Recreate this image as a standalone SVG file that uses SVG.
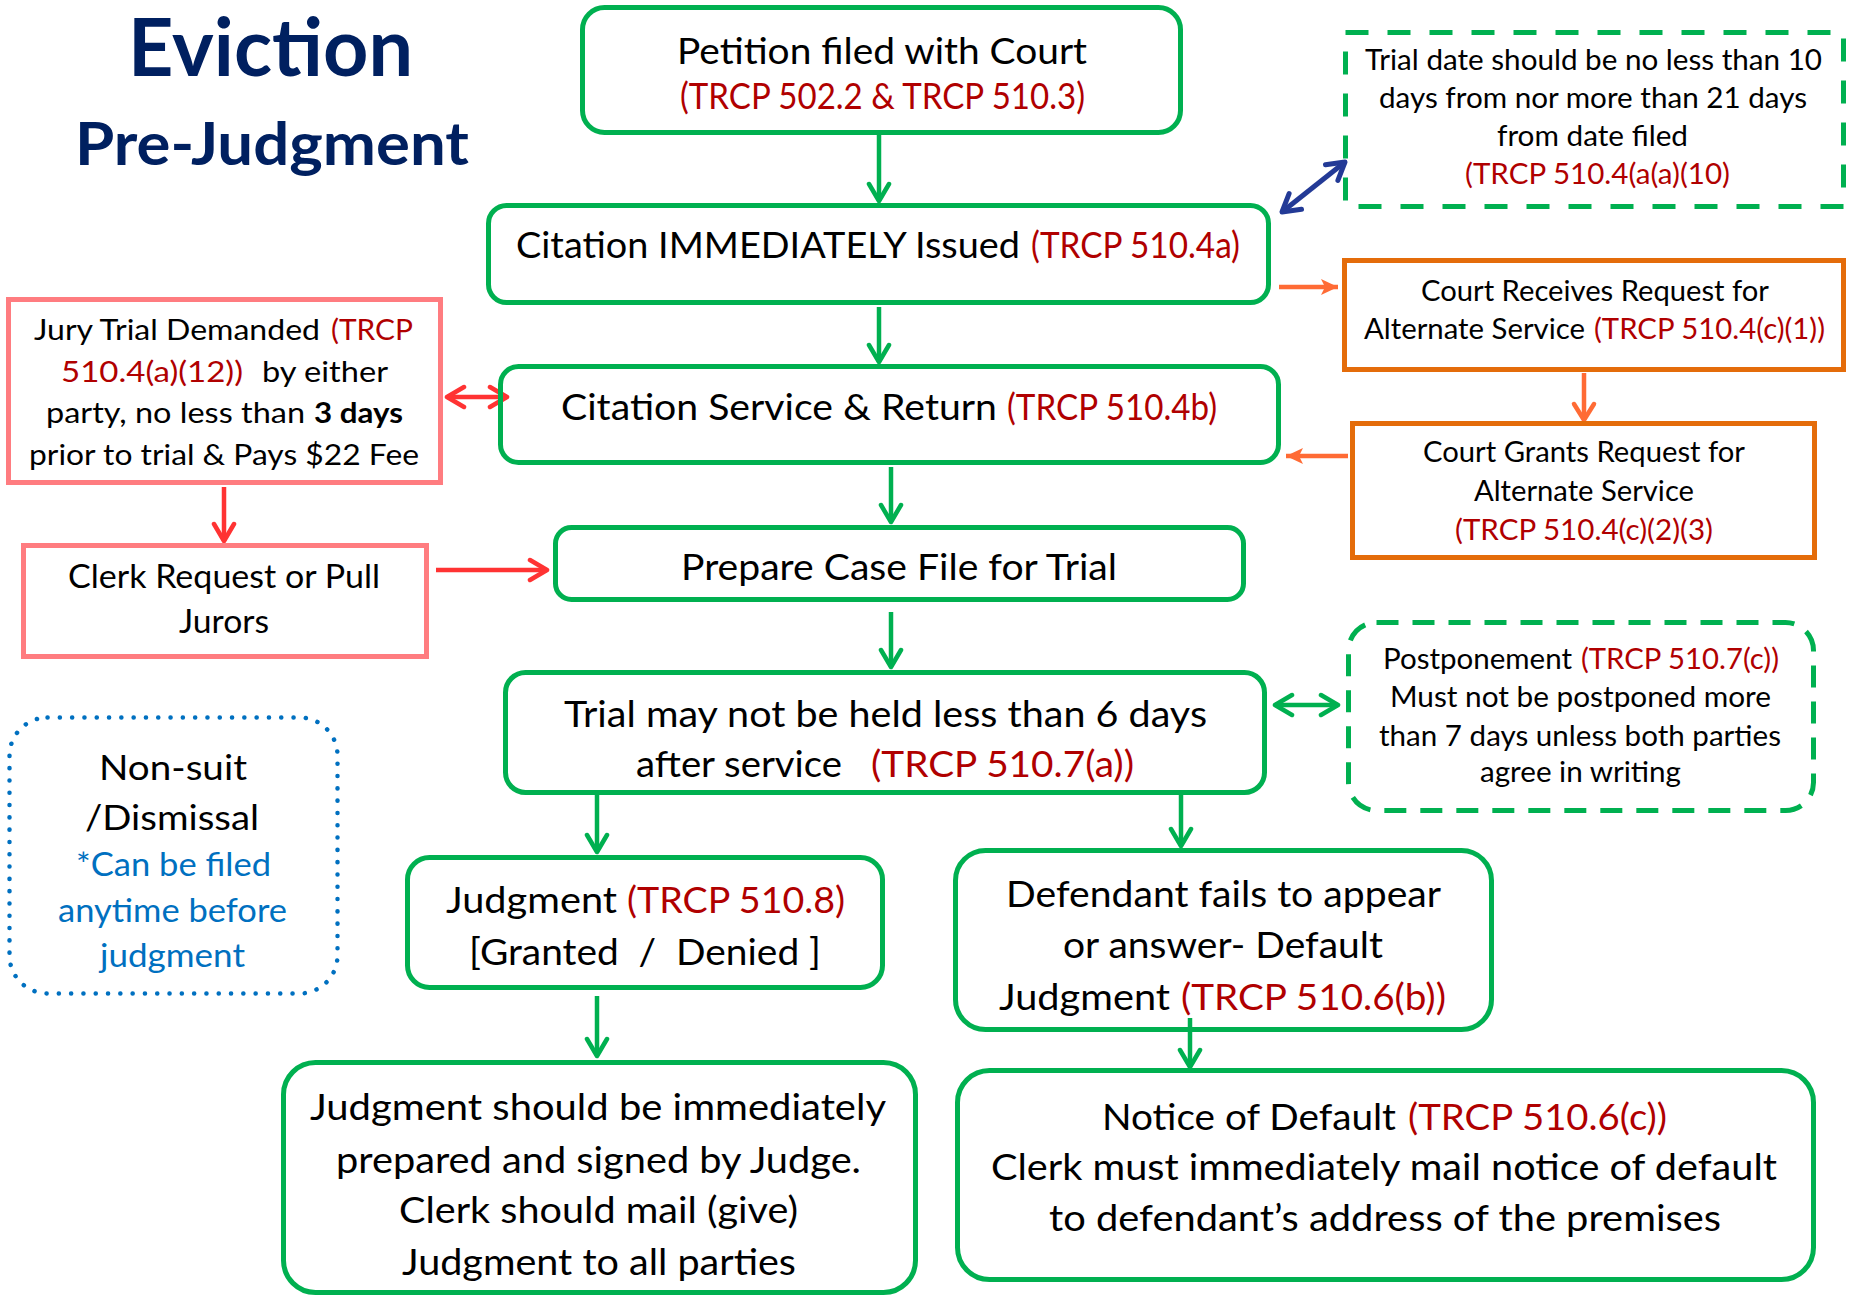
<svg xmlns="http://www.w3.org/2000/svg" width="1849" height="1297" viewBox="0 0 1849 1297">
<style>
text{font-family:Lato,"Liberation Sans",sans-serif;fill:#000}
.t{font-size:37px}
.s{font-size:28px}
.j{font-size:29px}
.r{fill:#B00000}
.b{fill:#0070C0}
.g{fill:none;stroke:#00B050;stroke-width:5}
.o{fill:#fff;stroke:#E46C0A;stroke-width:5}
.p{fill:#fff;stroke:#FF7C80;stroke-width:5}
.title{font-weight:700;fill:#002060}
.cg{fill:none;stroke:#00B050;stroke-width:4.5}
.cr{fill:none;stroke:#FF3333;stroke-width:4.5}
.co{fill:none;stroke:#FF6B35;stroke-width:4.5}
.cb{fill:none;stroke:#233A96;stroke-width:5}
</style>
<defs>
<marker id="mg" viewBox="-20 -14 24 28" refX="0" refY="0" markerWidth="24" markerHeight="28" markerUnits="userSpaceOnUse" orient="auto-start-reverse"><path d="M-17,-10 L0,0 L-17,10" fill="none" stroke="#00B050" stroke-width="4.5" stroke-linecap="round" stroke-linejoin="round"/></marker>
<marker id="mr" viewBox="-20 -14 24 28" refX="0" refY="0" markerWidth="24" markerHeight="28" markerUnits="userSpaceOnUse" orient="auto-start-reverse"><path d="M-17,-10 L0,0 L-17,10" fill="none" stroke="#FF3333" stroke-width="4.5" stroke-linecap="round" stroke-linejoin="round"/></marker>
<marker id="mb" viewBox="-20 -14 24 28" refX="0" refY="0" markerWidth="24" markerHeight="28" markerUnits="userSpaceOnUse" orient="auto-start-reverse"><path d="M-17,-10 L0,0 L-17,10" fill="none" stroke="#233A96" stroke-width="5" stroke-linecap="round" stroke-linejoin="round"/></marker>
<marker id="mov" viewBox="-20 -14 24 28" refX="0" refY="0" markerWidth="24" markerHeight="28" markerUnits="userSpaceOnUse" orient="auto"><path d="M-16,-10 L0,0 L-16,10" fill="none" stroke="#FF6B35" stroke-width="4.5" stroke-linecap="round" stroke-linejoin="round"/></marker>
<marker id="mof" viewBox="-18 -10 20 20" refX="0" refY="0" markerWidth="20" markerHeight="20" markerUnits="userSpaceOnUse" orient="auto"><path d="M-17,-8 L0,0 L-17,8 L-13,0 Z" fill="#FF6B35"/></marker>
</defs>

<g id="title">
<text class="title" x="128" y="76" font-size="80" textLength="285" lengthAdjust="spacingAndGlyphs">Eviction</text>
<text class="title" x="75" y="165" font-size="60" textLength="394" lengthAdjust="spacingAndGlyphs">Pre-Judgment</text>
</g>

<g id="connectors">
<line class="cg" x1="879" y1="135" x2="879" y2="201" marker-end="url(#mg)"/>
<line class="cg" x1="879" y1="307" x2="879" y2="362" marker-end="url(#mg)"/>
<line class="cg" x1="891" y1="467" x2="891" y2="522" marker-end="url(#mg)"/>
<line class="cg" x1="891" y1="612" x2="891" y2="667" marker-end="url(#mg)"/>
<line class="cg" x1="597" y1="795" x2="597" y2="852" marker-end="url(#mg)"/>
<line class="cg" x1="1181" y1="795" x2="1181" y2="846" marker-end="url(#mg)"/>
<line class="cg" x1="597" y1="996" x2="597" y2="1056" marker-end="url(#mg)"/>
<line class="cg" x1="1190" y1="1018" x2="1190" y2="1067" marker-end="url(#mg)"/>
<line class="cg" x1="1275" y1="705" x2="1338" y2="705" marker-start="url(#mg)" marker-end="url(#mg)"/>
<line class="cb" x1="1282" y1="212" x2="1345" y2="162" marker-start="url(#mb)" marker-end="url(#mb)"/>
<line class="co" x1="1279" y1="287" x2="1338" y2="287" marker-end="url(#mof)"/>
<line class="co" x1="1584" y1="373" x2="1584" y2="420" marker-end="url(#mov)"/>
<line class="co" x1="1348" y1="456" x2="1286" y2="456" marker-end="url(#mof)"/>
<line class="cr" x1="447" y1="397" x2="507" y2="397" marker-start="url(#mr)" marker-end="url(#mr)"/>
<line class="cr" x1="224" y1="487" x2="224" y2="541" marker-end="url(#mr)"/>
<line class="cr" x1="436" y1="570" x2="547" y2="570" marker-end="url(#mr)"/>
</g>

<g id="petition">
<rect class="g" x="582.5" y="7.5" width="598" height="125" rx="22"/>
<text class="t" x="677" y="64" textLength="410" lengthAdjust="spacingAndGlyphs">Petition filed with Court</text>
<text class="t r" x="680" y="109" textLength="405" lengthAdjust="spacingAndGlyphs">(TRCP 502.2 &amp; TRCP 510.3)</text>
</g>

<g id="citation-issued">
<rect class="g" x="488.5" y="205.5" width="780" height="97" rx="18"/>
<text class="t" x="516" y="258" textLength="504" lengthAdjust="spacingAndGlyphs">Citation IMMEDIATELY Issued</text>
<text class="t r" x="1031" y="258" textLength="209" lengthAdjust="spacingAndGlyphs">(TRCP 510.4a)</text>
</g>

<g id="citation-service">
<rect class="g" x="500.5" y="366.5" width="778" height="96" rx="18"/>
<text class="t" x="561" y="420" textLength="436" lengthAdjust="spacingAndGlyphs">Citation Service &amp; Return</text>
<text class="t r" x="1007" y="420" textLength="210" lengthAdjust="spacingAndGlyphs">(TRCP 510.4b)</text>
</g>

<g id="prepare">
<rect class="g" x="555.5" y="527.5" width="688" height="72" rx="16"/>
<text class="t" x="681" y="580" textLength="436" lengthAdjust="spacingAndGlyphs">Prepare Case File for Trial</text>
</g>

<g id="trial">
<rect class="g" x="505.5" y="672.5" width="759" height="120" rx="20"/>
<text class="t" x="564" y="727" textLength="643" lengthAdjust="spacingAndGlyphs">Trial may not be held less than 6 days</text>
<text class="t" x="636" y="777" textLength="206" lengthAdjust="spacingAndGlyphs">after service</text>
<text class="t r" x="871" y="777" textLength="263" lengthAdjust="spacingAndGlyphs">(TRCP 510.7(a))</text>
</g>

<g id="judgment">
<rect class="g" x="407.5" y="857.5" width="475" height="130" rx="22"/>
<text class="t" x="446" y="913" textLength="171" lengthAdjust="spacingAndGlyphs">Judgment</text>
<text class="t r" x="627" y="913" textLength="218" lengthAdjust="spacingAndGlyphs">(TRCP 510.8)</text>
<text class="t" x="469" y="965" textLength="352" lengthAdjust="spacingAndGlyphs">[Granted&#160; /&#160; Denied ]</text>
</g>

<g id="default-judgment">
<rect class="g" x="955.5" y="850.5" width="536" height="179" rx="30"/>
<text class="t" x="1006" y="907" textLength="435" lengthAdjust="spacingAndGlyphs">Defendant fails to appear</text>
<text class="t" x="1063" y="958" textLength="320" lengthAdjust="spacingAndGlyphs">or answer- Default</text>
<text class="t" x="999" y="1010" textLength="171" lengthAdjust="spacingAndGlyphs">Judgment</text>
<text class="t r" x="1181" y="1010" textLength="265" lengthAdjust="spacingAndGlyphs">(TRCP 510.6(b))</text>
</g>

<g id="judgment-signed">
<rect class="g" x="283.5" y="1062.5" width="632" height="230" rx="32"/>
<text class="t" x="310" y="1120" textLength="576" lengthAdjust="spacingAndGlyphs">Judgment should be immediately</text>
<text class="t" x="336" y="1173" textLength="525" lengthAdjust="spacingAndGlyphs">prepared and signed by Judge.</text>
<text class="t" x="399" y="1223" textLength="399" lengthAdjust="spacingAndGlyphs">Clerk should mail (give)</text>
<text class="t" x="402" y="1275" textLength="394" lengthAdjust="spacingAndGlyphs">Judgment to all parties</text>
</g>

<g id="notice-default">
<rect class="g" x="957.5" y="1070.5" width="856" height="209" rx="32"/>
<text class="t" x="1102" y="1130" textLength="294" lengthAdjust="spacingAndGlyphs">Notice of Default</text>
<text class="t r" x="1408" y="1130" textLength="259" lengthAdjust="spacingAndGlyphs">(TRCP 510.6(c))</text>
<text class="t" x="991" y="1180" textLength="786" lengthAdjust="spacingAndGlyphs">Clerk must immediately mail notice of default</text>
<text class="t" x="1049" y="1231" textLength="672" lengthAdjust="spacingAndGlyphs">to defendant’s address of the premises</text>
</g>

<g id="trial-date">
<rect x="1345.5" y="32.5" width="498" height="174" fill="none" stroke="#00B050" stroke-width="5" stroke-dasharray="23 19"/>
<text class="s" x="1365" y="70" textLength="457" lengthAdjust="spacingAndGlyphs">Trial date should be no less than 10</text>
<text class="s" x="1379" y="108" textLength="428" lengthAdjust="spacingAndGlyphs">days from nor more than 21 days</text>
<text class="s" x="1497" y="146" textLength="191" lengthAdjust="spacingAndGlyphs">from date filed</text>
<text class="s r" x="1465" y="184" textLength="265" lengthAdjust="spacingAndGlyphs">(TRCP 510.4(a(a)(10)</text>
</g>

<g id="alt-request">
<rect class="o" x="1344.5" y="260.5" width="499" height="109"/>
<text class="s" x="1421" y="301" textLength="348" lengthAdjust="spacingAndGlyphs">Court Receives Request for</text>
<text class="s" x="1364" y="339" textLength="221" lengthAdjust="spacingAndGlyphs">Alternate Service</text>
<text class="s r" x="1594" y="339" textLength="231" lengthAdjust="spacingAndGlyphs">(TRCP 510.4(c)(1))</text>
</g>

<g id="alt-grant">
<rect class="o" x="1352.5" y="423.5" width="462" height="134"/>
<text class="s" x="1423" y="462" textLength="322" lengthAdjust="spacingAndGlyphs">Court Grants Request for</text>
<text class="s" x="1474" y="501" textLength="220" lengthAdjust="spacingAndGlyphs">Alternate Service</text>
<text class="s r" x="1455" y="540" textLength="258" lengthAdjust="spacingAndGlyphs">(TRCP 510.4(c)(2)(3)</text>
</g>

<g id="postponement">
<rect x="1348.5" y="622.5" width="465" height="188" rx="28" fill="none" stroke="#00B050" stroke-width="5" stroke-dasharray="22 14"/>
<text class="s" x="1383" y="669" textLength="189" lengthAdjust="spacingAndGlyphs">Postponement</text>
<text class="s r" x="1581" y="669" textLength="198" lengthAdjust="spacingAndGlyphs">(TRCP 510.7(c))</text>
<text class="s" x="1390" y="707" textLength="381" lengthAdjust="spacingAndGlyphs">Must not be postponed more</text>
<text class="s" x="1379" y="746" textLength="402" lengthAdjust="spacingAndGlyphs">than 7 days unless both parties</text>
<text class="s" x="1480" y="782" textLength="201" lengthAdjust="spacingAndGlyphs">agree in writing</text>
</g>

<g id="jury">
<rect class="p" x="8.5" y="299.5" width="432" height="183"/>
<text class="j" x="34" y="340" textLength="286" lengthAdjust="spacingAndGlyphs">Jury Trial Demanded</text>
<text class="j r" x="331" y="340" textLength="82" lengthAdjust="spacingAndGlyphs">(TRCP</text>
<text class="j r" x="61" y="382" textLength="182" lengthAdjust="spacingAndGlyphs">510.4(a)(12))</text>
<text class="j" x="262" y="382" textLength="126" lengthAdjust="spacingAndGlyphs">by either</text>
<text class="j" x="46" y="423" textLength="259" lengthAdjust="spacingAndGlyphs">party, no less than</text>
<text class="j" x="314" y="423" font-weight="700" textLength="89" lengthAdjust="spacingAndGlyphs">3 days</text>
<text class="j" x="29" y="465" textLength="390" lengthAdjust="spacingAndGlyphs">prior to trial &amp; Pays $22 Fee</text>
</g>

<g id="jurors">
<rect class="p" x="23.5" y="545.5" width="403" height="111"/>
<text x="68" y="588" font-size="32" textLength="312" lengthAdjust="spacingAndGlyphs">Clerk Request or Pull</text>
<text x="179" y="633" font-size="32" textLength="90" lengthAdjust="spacingAndGlyphs">Jurors</text>
</g>

<g id="nonsuit">
<rect x="9.5" y="717.5" width="328" height="276" rx="38" fill="none" stroke="#0070C0" stroke-width="4.5" stroke-dasharray="0.1 12.2" stroke-linecap="round"/>
<text x="99" y="780" font-size="35" textLength="148" lengthAdjust="spacingAndGlyphs">Non-suit</text>
<text x="85" y="830" font-size="35" textLength="174" lengthAdjust="spacingAndGlyphs">/Dismissal</text>
<text class="b" x="76" y="876" font-size="32" textLength="195" lengthAdjust="spacingAndGlyphs">*Can be filed</text>
<text class="b" x="58" y="922" font-size="32" textLength="229" lengthAdjust="spacingAndGlyphs">anytime before</text>
<text class="b" x="100" y="967" font-size="32" textLength="145" lengthAdjust="spacingAndGlyphs">judgment</text>
</g>
</svg>
